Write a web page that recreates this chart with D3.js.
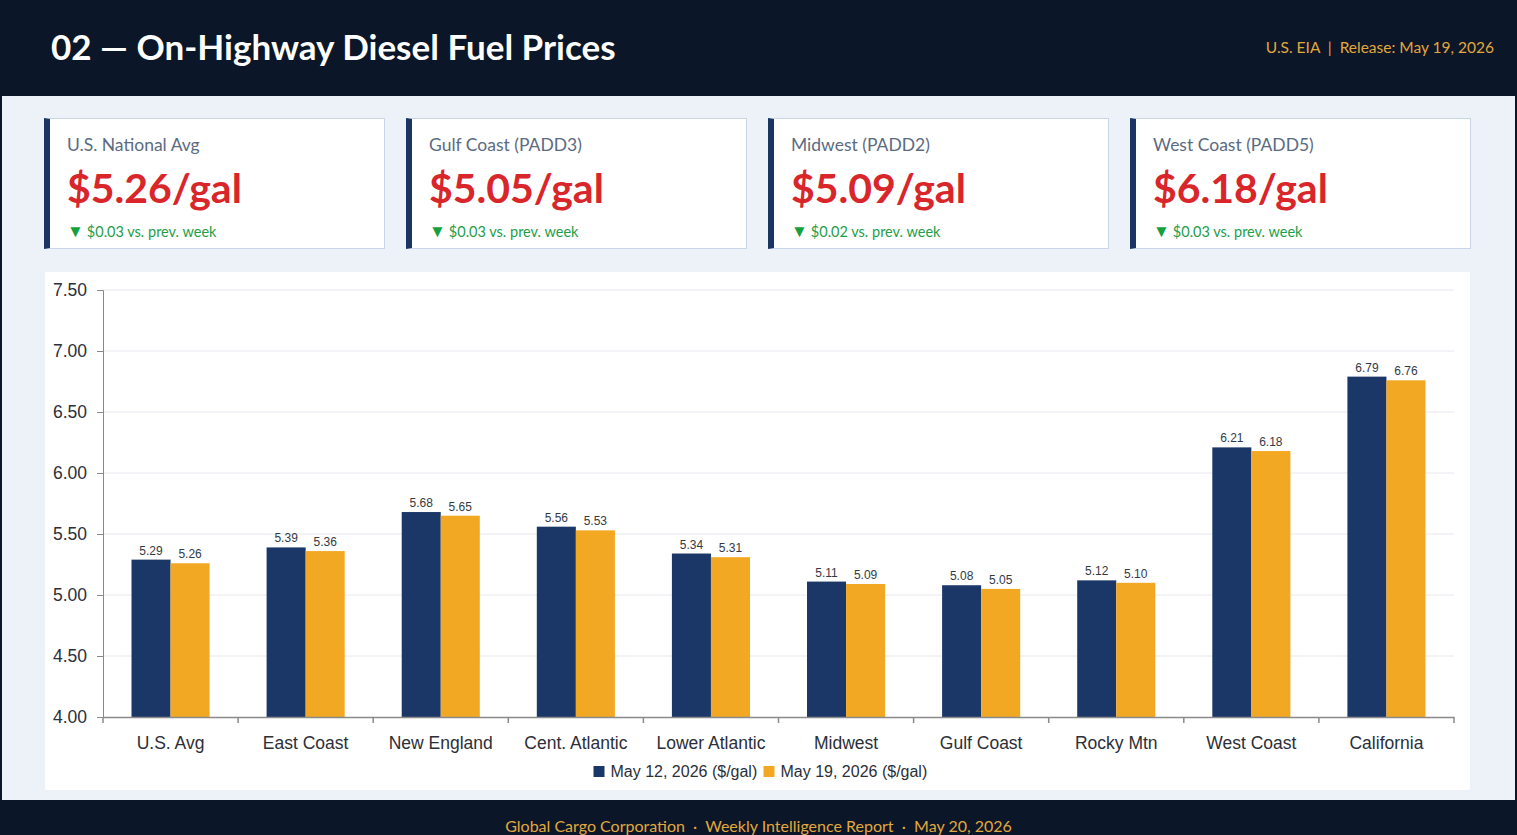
<!DOCTYPE html>
<html>
<head>
<meta charset="utf-8">
<script src="https://cdn.jsdelivr.net/npm/d3@7"></script>
<style>
  html, body { margin: 0; padding: 0; }
  body { width: 1517px; height: 835px; background: #0b1628; overflow: hidden; font-family: Lato, "Open Sans", sans-serif; position: relative; }
  .header { position: absolute; left: 0; top: 0; width: 1517px; height: 96px; background: #0b1628; }
  .header h1 { position: absolute; left: 51px; top: 29px; margin: 0; font-size: 35px; font-weight: 700; color: #fff; line-height: 1; }
  .header .src { position: absolute; right: 23px; top: 38px; font-size: 15.5px; color: #e2a83c; }
  .main { position: absolute; left: 2px; top: 96px; width: 1513px; height: 704px; background: #edf2f8; }
  .card { position: absolute; top: 22px; width: 334px; height: 129px; background: #fff; border: 1px solid #c9d5e8; border-left: 6px solid #1b3563; }
  .card .t { position: absolute; left: 17px; top: 15px; font-size: 17.5px; color: #5b6b82; }
  .card .v { position: absolute; left: 17px; top: 44px; font-size: 41px; font-weight: 700; color: #d8262a; }
  .card .c { position: absolute; left: 17px; top: 101px; font-size: 14.5px; color: #1e9e48; white-space: nowrap; }
  .card .c .tri { font-size: 17px; margin-right: 3px; color: #14a03c; }
  .panel { position: absolute; left: 43px; top: 176px; width: 1425px; height: 518px; background: #fff; }
  .footer { position: absolute; left: 0; top: 800px; width: 1517px; height: 35px; text-align: center; }
  .footer span { position: absolute; left: 0; width: 1517px; top: 16px; font-size: 16px; color: #e2a83c; }
  svg text { font-family: "Liberation Sans", Arial, sans-serif; }
</style>
</head>
<body>
<div class="header">
  <h1 id="title"></h1>
  <div class="src" id="src"></div>
</div>
<div class="main" id="main">
  <div class="panel"><svg id="chart" width="1425" height="518"></svg></div>
</div>
<div class="footer"><span id="foot"></span></div>
<script>
//// DATA

const TITLE = "02 \u2014 On-Highway Diesel Fuel Prices";
const SOURCE = "U.S. EIA \u00a0|\u00a0 Release: May 19, 2026";
const FOOTER = "Global Cargo Corporation \u00a0\u00b7\u00a0 Weekly Intelligence Report \u00a0\u00b7\u00a0 May 20, 2026";

const cardTitles = ["U.S. National Avg", "Gulf Coast (PADD3)", "Midwest (PADD2)", "West Coast (PADD5)"];
const cardValues = ["$5.26/gal", "$5.05/gal", "$5.09/gal", "$6.18/gal"];
const cardChanges = ["$0.03", "$0.03", "$0.02", "$0.03"];

const regions = ["U.S. Avg", "East Coast", "New England", "Cent. Atlantic", "Lower Atlantic",
  "Midwest", "Gulf Coast", "Rocky Mtn", "West Coast", "California"];
const prevWeek = [5.29, 5.39, 5.68, 5.56, 5.34, 5.11, 5.08, 5.12, 6.21, 6.79];
const thisWeek = [5.26, 5.36, 5.65, 5.53, 5.31, 5.09, 5.05, 5.10, 6.18, 6.76];
const seriesNames = ["May 12, 2026 ($/gal)", "May 19, 2026 ($/gal)"];
const yTicks = [4.00, 4.50, 5.00, 5.50, 6.00, 6.50, 7.00, 7.50];

const COLORS = ["#1b3767", "#f3a823"];

//// HEADER / CARDS

d3.select("#title").text(TITLE);
d3.select("#src").text(SOURCE);
d3.select("#foot").text(FOOTER);

const cards = d3.select("#main").selectAll(".card")
  .data(cardTitles.map((t, i) => ({t, v: cardValues[i], c: cardChanges[i]})))
  .enter()
  .append("div")
  .attr("class", "card")
  .style("left", (d, i) => (42 + i * 362) + "px");
cards.append("div").attr("class", "t").text(d => d.t);
cards.append("div").attr("class", "v").text(d => d.v);
const chg = cards.append("div").attr("class", "c");
chg.append("span").attr("class", "tri").text("\u25bc");
chg.append("span").text(d => d.c + " vs. prev. week");

//// CHART

const svg = d3.select("#chart");
const margin = {left: 58, top: 18, right: 16, bottom: 73};
const W = 1425, H = 518;
const iw = W - margin.left - margin.right;
const ih = H - margin.top - margin.bottom;
const g = svg.append("g").attr("transform", `translate(${margin.left},${margin.top})`);

const x = d3.scaleBand().domain(regions).range([0, iw]).paddingInner(0).paddingOuter(0);
const y = d3.scaleLinear().domain([4, 7.5]).range([ih, 0]);
const groupW = x.bandwidth() * 0.578;
const x1 = d3.scaleBand().domain([0, 1]).range([(x.bandwidth() - groupW) / 2, (x.bandwidth() + groupW) / 2]);

// grid
g.append("g").selectAll("line")
  .data(yTicks.slice(1))
  .enter().append("line")
  .attr("x1", 0).attr("x2", iw)
  .attr("y1", d => y(d)).attr("y2", d => y(d))
  .attr("stroke", "#e4e8ee").attr("stroke-width", 1);

// bars
const data = regions.map((r, i) => ({r, vals: [prevWeek[i], thisWeek[i]]}));
const groups = g.append("g").selectAll("g")
  .data(data).enter().append("g")
  .attr("transform", d => `translate(${x(d.r)},0)`);

groups.selectAll("rect")
  .data(d => d.vals.map((v, k) => ({v, k})))
  .enter().append("rect")
  .attr("x", d => x1(d.k))
  .attr("width", x1.bandwidth())
  .attr("y", d => y(d.v))
  .attr("height", d => ih - y(d.v))
  .attr("fill", d => COLORS[d.k]);

groups.selectAll("text")
  .data(d => d.vals.map((v, k) => ({v, k})))
  .enter().append("text")
  .attr("x", d => x1(d.k) + x1.bandwidth() / 2)
  .attr("y", d => y(d.v) - 5)
  .attr("text-anchor", "middle")
  .attr("font-size", 12)
  .attr("fill", "#333a45")
  .text(d => d.v.toFixed(2));

// axes
const yAxis = g.append("g")
  .call(d3.axisLeft(y).tickValues(yTicks).tickFormat(d3.format(".2f")).tickSize(6).tickPadding(10));
yAxis.select(".domain").attr("stroke", "#8a8a8a");
yAxis.selectAll(".tick line").attr("stroke", "#8a8a8a");
yAxis.selectAll("text").attr("font-size", 17.5).attr("fill", "#2b2f38").attr("font-family", "'Liberation Sans', Arial, sans-serif");

const xAxis = g.append("g").attr("transform", `translate(0,${ih})`)
  .call(d3.axisBottom(x).tickSize(0).tickPadding(20));
xAxis.select(".domain").attr("stroke", "#8a8a8a").attr("stroke-width", 1.5);
xAxis.selectAll("text").attr("font-size", 17.5).attr("fill", "#2b2f38").attr("font-family", "'Liberation Sans', Arial, sans-serif");

// category separator ticks
g.append("g").selectAll("line")
  .data(regions.concat(["__end"]))
  .enter().append("line")
  .attr("x1", (d, i) => i * x.bandwidth()).attr("x2", (d, i) => i * x.bandwidth())
  .attr("y1", ih).attr("y2", ih + 6)
  .attr("stroke", "#8a8a8a").attr("stroke-width", 1.5);

// legend
const legend = svg.append("g").attr("transform", `translate(${W / 2 - 164},${H - 13})`);
const legendOffsets = [0, 170];
seriesNames.forEach((name, i) => {
  const lg = legend.append("g").attr("transform", `translate(${legendOffsets[i]},0)`);
  lg.append("rect").attr("x", 0).attr("y", -11).attr("width", 11).attr("height", 11).attr("fill", COLORS[i]);
  lg.append("text").attr("x", 17).attr("y", 0).attr("font-size", 16).attr("fill", "#2b2f38")
    .attr("font-family", "Lato, sans-serif").text(name);
});
</script>
</body>
</html>
